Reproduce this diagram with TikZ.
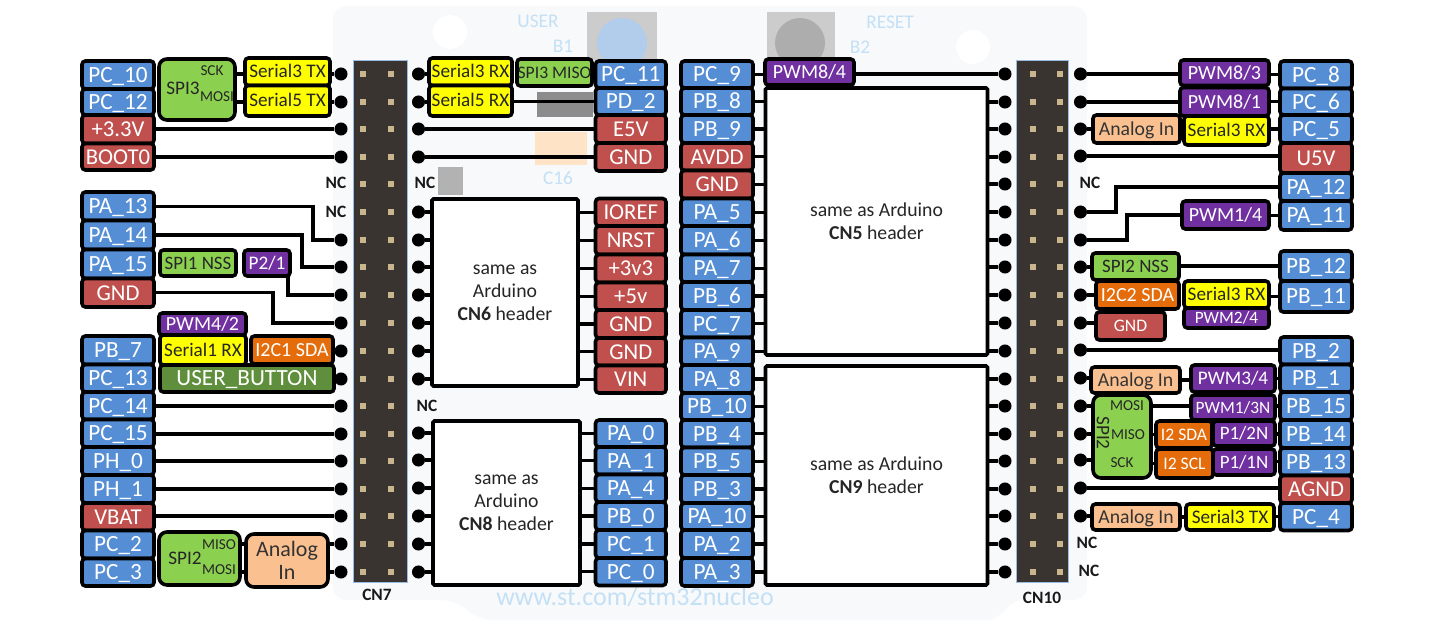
\documentclass[tikz,border=0pt]{standalone}
\usepackage{fontspec}
\setmainfont{Carlito}
\definecolor{cblue}{HTML}{558ED5}
\definecolor{cred}{HTML}{C0504D}
\definecolor{cpurple}{HTML}{7030A0}
\definecolor{cyellow}{HTML}{FFFF00}
\definecolor{cgreen}{HTML}{8CD050}
\definecolor{corange}{HTML}{E46C0A}
\definecolor{cdgreen}{HTML}{5F8F3C}
\definecolor{cpeach}{HTML}{FAC090}
\definecolor{cboard}{HTML}{F7F9FB}
\definecolor{csilk}{HTML}{C4E0F5}
\definecolor{cheader}{HTML}{3A3431}
\definecolor{cpin}{HTML}{C9B68E}
\tikzset{
  fs/.code={\pgfmathsetmacro\tmpH{#1*0.64}\tikzset{font=\fontsize{#1}{#1}\selectfont,text height=\tmpH pt,text depth=0pt}},
  lbl/.style={draw=black,line width=2.7pt,rounded corners=2.6pt,inner sep=0pt,outer sep=0pt,rectangle},
  pblue/.style={lbl,fill=cblue,text=white,fs=17.4},
  pred/.style={lbl,fill=cred,text=white,fs=17},
  ppurple/.style={lbl,fill=cpurple,text=white,fs=15},
  pyellow/.style={lbl,fill=cyellow,text=black!85,fs=14.4},
  pgreen/.style={lbl,fill=cgreen,text=black!85,fs=14.2},
  porange/.style={lbl,fill=corange,text=white,fs=15},
  pdgreen/.style={lbl,fill=cdgreen,text=white,fs=17.4},
  ppeach/.style={lbl,fill=cpeach,text=black!80,fs=14.8},
  bigcorner/.style={rounded corners=6pt},
  cnbox/.style={lbl,fill=white,text=black!85,align=center,rounded corners=1pt,font=\fontsize{14.8}{17.3}\selectfont},
  twoline/.style={lbl,fill=cpeach,text=black!80,align=center,font=\fontsize{16.5}{17.5}\selectfont},
  tiny/.style={inner sep=0pt,text=black!85,font=\fontsize{11.4}{12}\selectfont},
  mid/.style={inner sep=0pt,text=black!85,font=\fontsize{14.4}{15}\selectfont},
  nc/.style={inner sep=0pt,text=black!90,font=\bfseries\fontsize{13}{14}\selectfont},
  silk/.style={inner sep=0pt,text=csilk,font=\fontsize{14.5}{15}\selectfont},
  pindot/.style={circle,fill=black,minimum size=9.8pt,inner sep=0pt,outer sep=0pt},
  wire/.style={draw=black,line width=2.6pt},
}
\newcommand\pinbox[7][]{\node[#1,minimum width={(#4-#3)*0.75pt},minimum height={(#6-#5)*0.75pt}] (#2) at ({(#3+#4)/2},{(#5+#6)/2}) {#7};}
\newcommand\hwire[3]{\draw[wire] (#1) -- (#1 -| #2.#3);}
\begin{document}
\begin{tikzpicture}[x=0.75pt,y=-0.75pt]
\useasboundingbox (0,0) rectangle (1436,632);
\fill[white] (0,0) rectangle (1436,632);
% board
\fill[cboard,rounded corners=10pt] (333,6) -- (1087,6) -- (1087,600) -- (1010,600) -- (1000,620) -- (480,620) -- (455,600) -- (333,600) -- cycle;
\fill[white] (450,32) circle (17);
\fill[white] (973,47) circle (17);
\fill[black!20] (587,12) rectangle (657,60);
\fill[black!20] (767,12) rectangle (835,60);
\fill[cblue!45] (622,43) circle (25);
\fill[black!32] (800,43) circle (25);
\fill[black!45] (537,92) rectangle (593,117);
\fill[orange!22] (535,132) rectangle (587,165);
\fill[black!30] (438,167) rectangle (463,195);
\node[silk] (sUser) at (538,21) {USER};
\node[silk] (sB1) at (563,46) {B1};
\node[silk] (sReset) at (890,22) {RESET};
\node[silk] (sB2) at (860,47) {B2};
\node[silk] (sC16) at (558,178) {C16};
\node[silk,font=\fontsize{19.5}{20}\selectfont] (sWeb) at (635,597) {www.st.com/stm32nucleo};
% headers
\fill[cheader,draw=cblue!60,line width=0.6pt] (353,60) rectangle (407,582);
\fill[cheader,draw=cblue!60,line width=0.6pt] (1016,60) rectangle (1068,582);
\foreach \y in {74,102,129,157,184,212,240,267,295,323,351,379,406,434,461,489,516,544,572}{
  \fill[cpin] (360,\y-3) rectangle (366,\y+3);
  \fill[cpin] (388,\y-3) rectangle (394,\y+3);
  \fill[cpin] (1030,\y-3) rectangle (1036,\y+3);
  \fill[cpin] (1057,\y-3) rectangle (1063,\y+3);
}
% connection dots
\foreach \i/\y in {1/74,2/102,3/129,4/157,7/240,8/267,9/295,10/323,11/351,12/379,13/406,14/434,15/461,16/489,17/516,18/544,19/572}
  \node[pindot] (L\i) at (341,\y) {};
\foreach \i/\y in {1/74,2/102,3/129,4/157,6/212,7/240,8/267,9/295,10/323,11/351,12/379,14/433,15/460,16/488,17/516,18/544,19/572}
  \node[pindot] (R\i) at (418.5,\y) {};
\foreach \i/\y in {1/74,2/102,3/129,4/157,5/184,6/212,7/240,8/267,9/295,10/323,11/351,12/379,13/406,14/434,15/461,16/489,17/516,18/544,19/572}
  \node[pindot] (A\i) at (1005,\y) {};
\foreach \i/\y in {1/74,2/102,3/129,4/156,6/212,7/240,8/267,9/295,10/323,11/350,12/378,13/406,14/434,15/460,16/488,17/516}
  \node[pindot] (B\i) at (1080.5,\y) {};
% left column
\pinbox[pblue]{PC10}{82}{154}{61}{89}{PC\_10}
\pinbox[pblue]{PC12}{82}{154}{89}{115}{PC\_12}
\pinbox[pred]{V33}{82}{154}{115}{143.5}{+3.3V}
\pinbox[pred]{BOOT0}{82}{154}{143.5}{170}{BOOT0}
\pinbox[pblue]{PA13}{82}{154}{192}{220.5}{PA\_13}
\pinbox[pblue]{PA14}{82}{154}{220.5}{249.5}{PA\_14}
\pinbox[pblue]{PA15}{82}{154}{249.5}{278.5}{PA\_15}
\pinbox[pred]{GNDa}{82}{154}{278.5}{307}{GND}
\pinbox[pblue]{PB7}{82}{154}{336}{364.5}{PB\_7}
\pinbox[pblue]{PC13}{82}{154}{364.5}{392}{PC\_13}
\pinbox[pblue]{PC14}{82}{154}{392}{419.5}{PC\_14}
\pinbox[pblue]{PC15}{82}{154}{419.5}{447}{PC\_15}
\pinbox[pblue]{PH0}{82}{154}{447}{475}{PH\_0}
\pinbox[pblue]{PH1}{82}{154}{475}{503}{PH\_1}
\pinbox[pred]{VBAT}{82}{154}{503}{530.5}{VBAT}
\pinbox[pblue]{PC2}{82}{154}{530.5}{558.5}{PC\_2}
\pinbox[pblue]{PC3}{82}{154}{558.5}{586}{PC\_3}
% left functions
\pinbox[pgreen,bigcorner]{SPIthree}{159}{235}{59}{120}{}
\node[mid] (t1) at (183,88) {SPI3};
\node[tiny] (t2) at (212,71) {SCK};
\node[tiny] (t3) at (217,97) {MOSI};
\pinbox[pyellow]{SthreeTX}{245}{330}{58}{85.5}{Serial3 TX}
\pinbox[pyellow]{SfiveTX}{245}{330}{85.5}{116}{Serial5 TX}
\pinbox[pgreen]{SPIoneNSS}{160}{236}{250}{276}{SPI1 NSS}
\pinbox[ppurple,fs=14.4]{PtwoOne}{244}{290}{250}{276}{P2/1}
\pinbox[ppurple]{PWMfourTwo}{159}{246}{313}{335}{PWM4/2}
\pinbox[pyellow]{SoneRX}{160}{246}{335}{365}{Serial1 RX}
\pinbox[porange]{ItwoConeSDA}{251}{333}{336}{364}{I2C1 SDA}
\pinbox[pdgreen]{UB}{160}{334}{365}{392}{USER\_BUTTON}
\pinbox[pgreen,bigcorner]{SPItwoL}{159}{240}{532}{585}{}
\node[mid] (t4) at (185,558) {SPI2};
\node[tiny] (t5) at (219,545) {MISO};
\node[tiny] (t6) at (219,570) {MOSI};
\pinbox[twoline,bigcorner]{ANAL}{246}{328}{534}{587}{Analog\\In}
% centre-left
\pinbox[pyellow]{SthreeRX}{429}{512}{58}{85.5}{Serial3 RX}
\pinbox[pyellow]{SfiveRX}{429}{512}{85.5}{116}{Serial5 RX}
\pinbox[pgreen,fs=13.2]{SPIthreeMISO}{517}{592}{59}{86}{SPI3 MISO}
\pinbox[cnbox]{CNsix}{432}{578}{199}{386}{same as\\Arduino\\\textbf{CN6} header}
\pinbox[cnbox]{CNeight}{433}{580}{421}{585}{same as\\Arduino\\\textbf{CN8} header}
\pinbox[pblue]{PC11}{595.5}{666}{61}{88}{PC\_11}
\pinbox[pblue]{PD2}{595.5}{666}{88}{115}{PD\_2}
\pinbox[pred]{EfiveV}{595.5}{666}{115}{143}{E5V}
\pinbox[pred]{GNDb}{595.5}{666}{143}{171}{GND}
\pinbox[pred]{IOREF}{595.5}{666}{198.5}{226}{IOREF}
\pinbox[pred]{NRST}{595.5}{666}{226}{254.5}{NRST}
\pinbox[pred]{Pthree}{595.5}{666}{254.5}{282.5}{+3v3}
\pinbox[pred]{Pfive}{595.5}{666}{282.5}{310}{+5v}
\pinbox[pred]{GNDc}{595.5}{666}{310}{338}{GND}
\pinbox[pred]{GNDd}{595.5}{666}{338}{365.5}{GND}
\pinbox[pred]{VIN}{595.5}{666}{365.5}{393}{VIN}
\pinbox[pblue]{PA0}{595.5}{666}{420}{447}{PA\_0}
\pinbox[pblue]{PA1}{595.5}{666}{447}{474.5}{PA\_1}
\pinbox[pblue]{PA4}{595.5}{666}{474.5}{502}{PA\_4}
\pinbox[pblue]{PB0}{595.5}{666}{502}{530}{PB\_0}
\pinbox[pblue]{PC1}{595.5}{666}{530}{558}{PC\_1}
\pinbox[pblue]{PC0}{595.5}{666}{558}{585.5}{PC\_0}
% centre-right column
\pinbox[pblue]{PC9}{681}{753}{61}{88}{PC\_9}
\pinbox[pblue]{PB8}{681}{753}{88}{115}{PB\_8}
\pinbox[pblue]{PB9}{681}{753}{115}{143}{PB\_9}
\pinbox[pred]{AVDD}{681}{753}{143}{170.5}{AVDD}
\pinbox[pred]{GNDe}{681}{753}{170.5}{198.5}{GND}
\pinbox[pblue]{PA5}{681}{753}{198.5}{226}{PA\_5}
\pinbox[pblue]{PA6}{681}{753}{226}{254.5}{PA\_6}
\pinbox[pblue]{PA7}{681}{753}{254.5}{282}{PA\_7}
\pinbox[pblue]{PB6}{681}{753}{282}{310}{PB\_6}
\pinbox[pblue]{PC7}{681}{753}{310}{337.5}{PC\_7}
\pinbox[pblue]{PA9}{681}{753}{337.5}{365}{PA\_9}
\pinbox[pblue]{PA8}{681}{753}{365}{393}{PA\_8}
\pinbox[pblue]{PB10}{681}{753}{393}{420}{PB\_10}
\pinbox[pblue]{PB4}{681}{753}{420}{447.5}{PB\_4}
\pinbox[pblue]{PB5}{681}{753}{447.5}{475}{PB\_5}
\pinbox[pblue]{PB3}{681}{753}{475}{503}{PB\_3}
\pinbox[pblue]{PA10}{681}{753}{503}{530}{PA\_10}
\pinbox[pblue]{PA2}{681}{753}{530}{558}{PA\_2}
\pinbox[pblue]{PA3}{681}{753}{558}{586}{PA\_3}
\pinbox[ppurple]{PWMeightFour}{765}{854}{59}{85}{PWM8/4}
\pinbox[cnbox]{CNfive}{765.5}{987.5}{88}{355}{same as Arduino\\\textbf{CN5} header}
\pinbox[cnbox]{CNnine}{765.5}{987.5}{366}{585}{same as Arduino\\\textbf{CN9} header}
% right column
\pinbox[pblue]{PC8}{1280}{1352}{61}{88.5}{PC\_8}
\pinbox[pblue]{PC6}{1280}{1352}{88.5}{115}{PC\_6}
\pinbox[pblue]{PC5}{1280}{1352}{115}{143}{PC\_5}
\pinbox[pred]{UfiveV}{1280}{1352}{143}{173}{U5V}
\pinbox[pblue]{PA12}{1280}{1352}{173}{201}{PA\_12}
\pinbox[pblue]{PA11}{1280}{1352}{201}{230}{PA\_11}
\pinbox[pblue]{PB12}{1280}{1352}{251}{281}{PB\_12}
\pinbox[pblue]{PB11}{1280}{1352}{281}{312}{PB\_11}
\pinbox[pblue]{PB2}{1280}{1352}{337}{364.5}{PB\_2}
\pinbox[pblue]{PB1}{1280}{1352}{364.5}{392}{PB\_1}
\pinbox[pblue]{PB15}{1280}{1352}{392}{420}{PB\_15}
\pinbox[pblue]{PB14}{1280}{1352}{420}{448}{PB\_14}
\pinbox[pblue]{PB13}{1280}{1352}{448}{475.5}{PB\_13}
\pinbox[pred]{AGND}{1280}{1352}{475.5}{503}{AGND}
\pinbox[pblue]{PC4}{1280}{1352}{503}{530.5}{PC\_4}
% right functions
\pinbox[ppurple]{PWMeightThree}{1180}{1269}{60}{85.5}{PWM8/3}
\pinbox[ppurple]{PWMeightOne}{1180}{1269}{87.5}{116}{PWM8/1}
\pinbox[ppeach]{ANa}{1093}{1180}{115}{143}{Analog In}
\pinbox[pyellow]{SthreeRXb}{1184}{1269}{116}{145}{Serial3 RX}
\pinbox[ppurple]{PWMoneFour}{1182}{1269}{201}{229}{PWM1/4}
\pinbox[pgreen]{SPItwoNSS}{1092}{1179}{253}{280}{SPI2 NSS}
\pinbox[porange]{ItwoCtwoSDA}{1096}{1179}{281}{309}{I2C2 SDA}
\pinbox[pred,fs=13.2]{GNDf}{1096}{1165}{312}{340}{GND}
\pinbox[pyellow]{SthreeRXc}{1184}{1269}{281}{308}{Serial3 RX}
\pinbox[ppurple,fs=13]{PWMtwoFour}{1184}{1269}{308}{328}{PWM2/4}
\pinbox[ppeach]{ANb}{1091}{1180}{367}{393}{Analog In}
\pinbox[ppurple,fs=14.4]{PWMthreeFour}{1191}{1275}{365}{392}{PWM3/4}
\pinbox[pgreen,bigcorner]{SPItwoR}{1093}{1151}{395}{478}{}
\node[mid,rotate=-90] (t7) at (1103,433) {SPI2};
\node[tiny] (t8) at (1127,406) {MOSI};
\node[tiny] (t9) at (1128,435) {MISO};
\node[tiny] (t10) at (1122,463) {SCK};
\pinbox[ppurple,fs=13]{PWMoneThreeN}{1191}{1275}{395}{420}{PWM1/3N}
\pinbox[porange,fs=13.2]{ItwoSDA}{1156}{1212}{421}{448}{I2 SDA}
\pinbox[porange,fs=13.2]{ItwoSCL}{1156}{1213}{449}{478}{I2 SCL}
\pinbox[ppurple,fs=14.2]{PonetwoN}{1213}{1275}{421}{446}{P1/2N}
\pinbox[ppurple,fs=14.2]{PoneoneN}{1213}{1275}{449}{475}{P1/1N}
\pinbox[ppeach]{ANc}{1092}{1180}{504}{530}{Analog In}
\pinbox[pyellow]{SthreeTXb}{1186}{1274}{504}{530}{Serial3 TX}
% texts on the board
\node[nc] (nc1) at (336,183) {NC};
\node[nc] (nc2) at (336,212) {NC};
\node[nc] (nc3) at (425,183) {NC};
\node[nc] (nc4) at (427,406) {NC};
\node[nc] (nc5) at (1090,183) {NC};
\node[nc] (nc6) at (1087,543) {NC};
\node[nc] (nc7) at (1089,571) {NC};
\node[nc] (cn7) at (377,595) {CN7};
\node[nc] (cn10) at (1042,598) {CN10};
% elbow guides
\coordinate (kA) at (313,0);
\coordinate (kB) at (302,0);
\coordinate (kC) at (288,0);
\coordinate (kD) at (273,0);
\coordinate (kE) at (1116,0);
\coordinate (kF) at (1127,0);
% connectors, left
\draw[wire] (SPIthree.east |- L1) -- (SthreeTX.west |- L1);
\draw[wire] (SPIthree.east |- L2) -- (SfiveTX.west |- L2);
\hwire{L1}{SthreeTX}{east}
\hwire{L2}{SfiveTX}{east}
\hwire{L3}{V33}{east}
\hwire{L4}{BOOT0}{east}
\draw[wire] (PA13) -- (PA13 -| kA) -- (kA |- L7) -- (L7);
\draw[wire] (PA14) -- (PA14 -| kB) -- (kB |- L8) -- (L8);
\draw[wire] (kC |- PtwoOne.south) -- (kC |- L9) -- (L9);
\draw[wire] (GNDa) -- (GNDa -| kD) -- (kD |- L10) -- (L10);
\hwire{L11}{ItwoConeSDA}{east}
\hwire{L12}{UB}{east}
\hwire{L13}{PC14}{east}
\hwire{L14}{PC15}{east}
\hwire{L15}{PH0}{east}
\hwire{L16}{PH1}{east}
\hwire{L17}{VBAT}{east}
\hwire{L18}{ANAL}{east}
\hwire{L19}{ANAL}{east}
\draw[wire] (SPItwoL.east |- L18) -- (ANAL.west |- L18);
\draw[wire] (SPItwoL.east |- L19) -- (ANAL.west |- L19);
% connectors, centre-left
\hwire{R1}{SthreeRX}{west}
\hwire{R2}{SfiveRX}{west}
\draw[wire] (SfiveRX.east |- PD2) -- (PD2.west |- PD2);
\hwire{R3}{EfiveV}{west}
\hwire{R4}{GNDb}{west}
\foreach \i in {6,7,8,9,10,11,12}{\hwire{R\i}{CNsix}{west}}
\foreach \i in {14,15,16,17,18,19}{\hwire{R\i}{CNeight}{west}}
\foreach \n in {IOREF,NRST,Pthree,Pfive,GNDc,GNDd,VIN}{\hwire{\n}{CNsix}{east}}
\foreach \n in {PA0,PA1,PA4,PB0,PC1,PC0}{\hwire{\n}{CNeight}{east}}
% connectors, centre-right
\hwire{PC9}{PWMeightFour}{west}
\hwire{A1}{PWMeightFour}{east}
\foreach \n in {PB8,PB9,AVDD,GNDe,PA5,PA6,PA7,PB6,PC7,PA9}{\hwire{\n}{CNfive}{west}}
\foreach \n in {PA8,PB10,PB4,PB5,PB3,PA10,PA2,PA3}{\hwire{\n}{CNnine}{west}}
\foreach \i in {2,...,11}{\hwire{A\i}{CNfive}{east}}
\foreach \i in {12,...,19}{\hwire{A\i}{CNnine}{east}}
% connectors, right
\hwire{B1}{PWMeightThree}{west}
\hwire{PC8}{PWMeightThree}{east}
\hwire{B2}{PWMeightOne}{west}
\hwire{PC6}{PWMeightOne}{east}
\hwire{B3}{ANa}{west}
\hwire{PC5}{SthreeRXb}{east}
\hwire{B4}{UfiveV}{west}
\draw[wire] (PA12) -- (PA12 -| kE) -- (kE |- B6) -- (B6);
\draw[wire] (PWMoneFour) -- (PWMoneFour -| kF) -- (kF |- B7) -- (B7);
\hwire{PA11}{PWMoneFour}{east}
\hwire{B8}{SPItwoNSS}{west}
\hwire{PB12}{SPItwoNSS}{east}
\hwire{B9}{ItwoCtwoSDA}{west}
\hwire{PB11}{SthreeRXc}{east}
\hwire{B10}{GNDf}{west}
\hwire{B11}{PB2}{west}
\hwire{B12}{ANb}{west}
\hwire{PB1}{PWMthreeFour}{east}
\hwire{ANb}{PWMthreeFour}{west}
\hwire{B13}{SPItwoR}{west}
\hwire{B14}{SPItwoR}{west}
\hwire{B15}{SPItwoR}{west}
\draw[wire] (SPItwoR.east |- B13) -- (PWMoneThreeN.west |- B13);
\hwire{PB15}{PWMoneThreeN}{east}
\draw[wire] (SPItwoR.east |- ItwoSDA) -- (ItwoSDA.west);
\draw[wire] (SPItwoR.east |- ItwoSCL) -- (ItwoSCL.west);
\hwire{PB14}{PonetwoN}{east}
\hwire{PB13}{PoneoneN}{east}
\hwire{B16}{AGND}{west}
\hwire{B17}{ANc}{west}
\hwire{ANc}{SthreeTXb}{west}
\hwire{PC4}{SthreeTXb}{east}
\end{tikzpicture}
\end{document}
